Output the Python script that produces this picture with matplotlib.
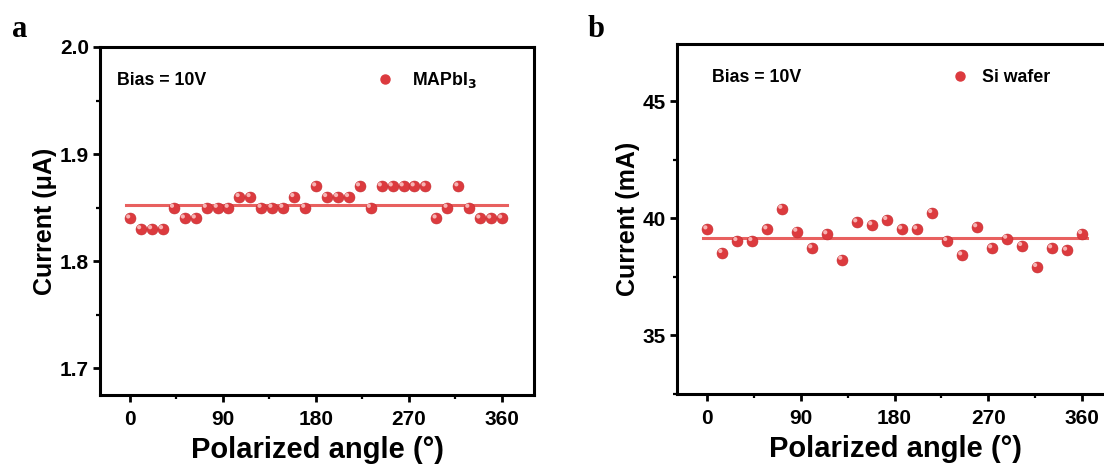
import matplotlib
matplotlib.use("Agg")
import matplotlib.pyplot as plt
import matplotlib.transforms as mtransforms
from matplotlib.ticker import MultipleLocator
from matplotlib.lines import Line2D

# ---------------- data ----------------
angles_a = [0, 10.6, 21.2, 31.8, 42.4, 52.9, 63.5, 74.1, 84.7, 95.3, 105.9, 116.5,
            127.1, 137.6, 148.2, 158.8, 169.4, 180.0, 190.6, 201.2, 211.8, 222.4,
            232.9, 243.5, 254.1, 264.7, 275.3, 285.9, 296.5, 307.1, 317.6, 328.2,
            338.8, 349.4, 360.0]
current_a = [1.84, 1.83, 1.83, 1.83, 1.85, 1.84, 1.84, 1.85, 1.85, 1.85, 1.86, 1.86,
             1.85, 1.85, 1.85, 1.86, 1.85, 1.87, 1.86, 1.86, 1.86, 1.87, 1.85, 1.87,
             1.87, 1.87, 1.87, 1.87, 1.84, 1.85, 1.87, 1.85, 1.84, 1.84, 1.84]
fit_a = 1.852

angles_b = [0, 14.4, 28.8, 43.2, 57.6, 72.0, 86.4, 100.8, 115.2, 129.6, 144.0, 158.4,
            172.8, 187.2, 201.6, 216.0, 230.4, 244.8, 259.2, 273.6, 288.0, 302.4,
            316.8, 331.2, 345.6, 360.0]
current_b = [39.53, 38.52, 39.03, 39.03, 39.53, 40.41, 39.43, 38.72, 39.32, 38.23,
             39.83, 39.71, 39.93, 39.53, 39.53, 40.23, 39.03, 38.42, 39.62, 38.72,
             39.13, 38.82, 37.92, 38.72, 38.62, 39.33]
fit_b = 39.17
fit_span = [-4, 365]

xticks = [0, 90, 180, 270, 360]

# ---------------- style ----------------
plt.rcParams['font.family'] = ['Liberation Sans', 'DejaVu Sans']
plt.rcParams['font.weight'] = 'bold'
plt.rcParams['axes.linewidth'] = 2.2

RED = '#dc3a3e'
HIGHLIGHT = '#f7b3b3'
LINE = '#e8605f'

fig = plt.figure(figsize=(11.04, 4.71), dpi=100)
ax_a = fig.add_axes([0.0906, 0.1614, 0.3931, 0.7389])
ax_b = fig.add_axes([0.6132, 0.1635, 0.3960, 0.7430])


def spheres(ax, x, y, label):
    ax.scatter(x, y, s=62, color=RED, edgecolors='#c42a2e', linewidths=0.4,
               zorder=3, label=label)
    off = mtransforms.ScaledTranslation(-1.3 / 72, 1.3 / 72, fig.dpi_scale_trans)
    ax.scatter(x, y, s=9, color=HIGHLIGHT, edgecolors='none', zorder=4,
               transform=ax.transData + off)


def style(ax, ylabel):
    ax.set_xlim(-29, 391)
    ax.xaxis.set_major_locator(MultipleLocator(90))
    ax.xaxis.set_minor_locator(MultipleLocator(45))
    ax.set_xticks(xticks)
    ax.tick_params(which='major', direction='out', length=5, width=2,
                   labelsize=15, pad=3)
    ax.tick_params(axis='x', which='major', pad=6)
    ax.tick_params(which='minor', direction='out', length=3, width=1.6)
    for lab in ax.get_xticklabels() + ax.get_yticklabels():
        lab.set_fontweight('bold')
    ax.set_xlabel('Polarized angle (°)', fontsize=21, fontweight='bold', labelpad=5)
    ax.set_ylabel(ylabel, fontsize=18, fontweight='bold', labelpad=2)


# panel a
spheres(ax_a, angles_a, current_a, 'MAPbI$_\\mathbf{3}$')
ax_a.plot(fit_span, [fit_a, fit_a], color=LINE, lw=2.2, zorder=2)
ax_a.set_ylim(1.675, 2.0)
ax_a.yaxis.set_major_locator(MultipleLocator(0.1))
ax_a.yaxis.set_minor_locator(MultipleLocator(0.05))
ax_a.set_yticks([1.7, 1.8, 1.9, 2.0])
ax_a.set_yticklabels(['1.7', '1.8', '1.9', '2.0'])
style(ax_a, 'Current (μA)')
ax_a.text(0.039, 0.905, 'Bias = 10V', transform=ax_a.transAxes, fontsize=12.8,
          fontweight='bold', va='center', ha='left')

# panel b
spheres(ax_b, angles_b, current_b, 'Si wafer')
ax_b.plot(fit_span, [fit_b, fit_b], color=LINE, lw=2.2, zorder=2)
ax_b.set_ylim(32.48, 47.45)
ax_b.yaxis.set_major_locator(MultipleLocator(5))
ax_b.yaxis.set_minor_locator(MultipleLocator(2.5))
ax_b.set_yticks([35, 40, 45])
style(ax_b, 'Current (mA)')
ax_b.text(0.080, 0.905, 'Bias = 10V', transform=ax_b.transAxes, fontsize=12.8,
          fontweight='bold', va='center', ha='left')

for ax, xloc, pad in ((ax_a, 0.632, 0.9), (ax_b, 0.623, 0.62)):
    h = Line2D([], [], ls='none', marker='o', markersize=6.5, color=RED)
    lab = ax.get_legend_handles_labels()[1][0]
    ax.legend([h], [lab], loc='center left', bbox_to_anchor=(xloc, 0.905),
              frameon=False, handletextpad=pad, handlelength=1.2,
              borderaxespad=0, borderpad=0,
              prop={'weight': 'bold', 'size': 12.8})

fig.text(0.011, 0.922, 'a', fontsize=22, fontweight='bold',
         family=['Liberation Serif', 'DejaVu Serif'], va='baseline')
fig.text(0.532, 0.922, 'b', fontsize=22, fontweight='bold',
         family=['Liberation Serif', 'DejaVu Serif'], va='baseline')

fig.savefig('out.png', dpi=100)
